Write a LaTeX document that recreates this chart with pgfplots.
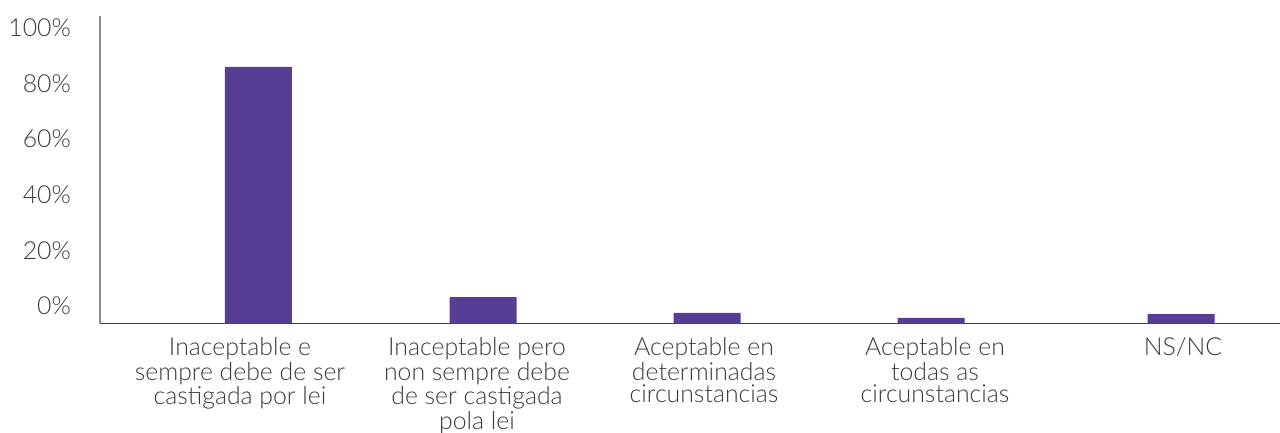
\documentclass[border=0pt]{standalone}
\usepackage{pgfplots}
\pgfplotsset{compat=1.18}
\usepackage{fontspec}
\setmainfont{Lato Light}
\definecolor{barpurple}{RGB}{87,61,148}
\definecolor{txt}{RGB}{60,60,60}
\begin{document}
\begin{tikzpicture}[x=1pt,y=1pt]
  \useasboundingbox (-50,-54.5) rectangle (590,161.75);
  \begin{axis}[
      at={(0,0)}, anchor=south west,
      scale only axis,
      width=590pt, height=153.9pt,
      xmin=100, xmax=1280,
      ymin=0, ymax=110.6,
      axis x line*=bottom,
      axis y line*=left,
      x axis line style={draw=black!75, line width=0.9pt},
      y axis line style={draw=black!45, line width=0.7pt},
      major tick length=0pt,
      ytick={0,20,40,60,80,100},
      yticklabels={0\%,20\%,40\%,60\%,80\%,100\%},
      yticklabel style={anchor=east, xshift=-11pt, yshift=8.75pt},
      xtick={240,477,704,935,1183},
      xticklabels={{Inaceptable e\\sempre debe de ser\\castigada por lei},
                   {Inaceptable pero\\non sempre debe\\de ser castigada\\pola lei},
                   {Aceptable en\\determinadas\\circunstancias},
                   {Aceptable en\\todas as\\circunstancias},
                   {NS/NC}},
      xticklabel style={align=center, anchor=north, yshift=-3.5pt},
      tick label style={font=\fontsize{12.4}{11}\selectfont, text=txt},
      ybar, bar width=67,
    ]
    \addplot[fill=barpurple, draw=none] coordinates {
        (258.5, 92.2)
        (483, 9.5)
        (707, 3.8)
        (931, 2.0)
        (1181, 3.4)
      };
  \end{axis}
\end{tikzpicture}
\end{document}
